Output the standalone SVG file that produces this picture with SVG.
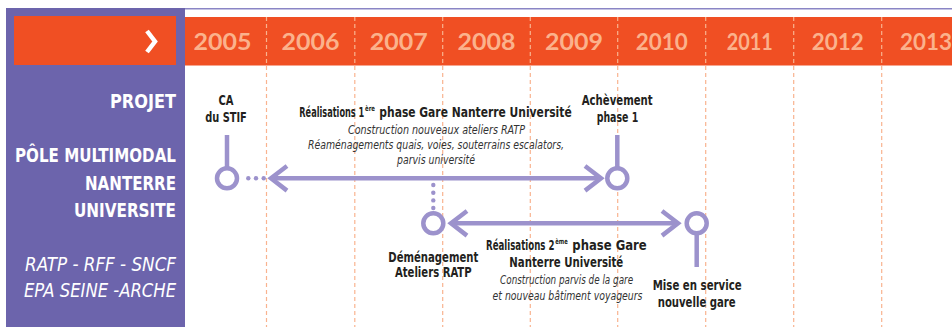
<svg xmlns="http://www.w3.org/2000/svg" width="952" height="327" viewBox="0 0 952 327">
<style>
.yr{font-family:Lato,"Open Sans",sans-serif;font-weight:700;font-size:22px;fill:#fbb28c;text-anchor:middle}
.side{font-family:"DejaVu Sans Condensed","DejaVu Sans",sans-serif;font-weight:700;font-size:20px;fill:#fff;text-anchor:end}
.sidei{font-family:"DejaVu Sans Condensed","DejaVu Sans",sans-serif;font-style:italic;font-size:20px;fill:#fff;text-anchor:end}
.lb{font-family:"DejaVu Sans Condensed","DejaVu Sans",sans-serif;font-weight:700;font-size:14.5px;fill:#231f20;text-anchor:middle}
.st{text-anchor:start}
.it{font-family:"DejaVu Sans Condensed","DejaVu Sans",sans-serif;font-style:italic;font-size:12px;fill:#333;text-anchor:middle}
.sup{font-family:"DejaVu Sans Condensed","DejaVu Sans",sans-serif;font-weight:700;font-size:7.5px;fill:#231f20}
.dash{stroke:#f9b38f;stroke-width:1.2;stroke-dasharray:4 3}
.tl{stroke:#9c92cc;stroke-width:4.5;fill:none;stroke-linecap:butt}
.ring{stroke:#9c92cc;stroke-width:4.5;fill:#fff}
.dot{fill:#9c92cc}
</style>
<rect width="952" height="327" fill="#fff"/>
<g id="header">
<rect x="6" y="8" width="179" height="319" fill="#6c64ac"/>
<line x1="185" y1="8.8" x2="952" y2="8.8" stroke="#8a85c5" stroke-width="1.6"/>
<rect x="14" y="16" width="162" height="49" fill="#f04f23"/>
<rect x="185" y="17" width="767" height="48.5" fill="#f04f23"/>
<polyline points="147,31 155,41.5 147,52" fill="none" stroke="#fff" stroke-width="4.5"/>
</g>
<g id="grid">
<line class="dash" x1="266.5" y1="17" x2="266.5" y2="327"/>
<line class="dash" x1="354.8" y1="17" x2="354.8" y2="327"/>
<line class="dash" x1="442.7" y1="17" x2="442.7" y2="327"/>
<line class="dash" x1="530.3" y1="17" x2="530.3" y2="327"/>
<line class="dash" x1="617.7" y1="17" x2="617.7" y2="327"/>
<line class="dash" x1="705.7" y1="17" x2="705.7" y2="327"/>
<line class="dash" x1="793.7" y1="17" x2="793.7" y2="327"/>
<line class="dash" x1="881.7" y1="17" x2="881.7" y2="327"/>
</g>
<g id="years">
<text class="yr" x="222.5" y="50" textLength="58" lengthAdjust="spacingAndGlyphs">2005</text>
<text class="yr" x="310.5" y="50" textLength="58" lengthAdjust="spacingAndGlyphs">2006</text>
<text class="yr" x="398.7" y="50" textLength="58" lengthAdjust="spacingAndGlyphs">2007</text>
<text class="yr" x="486.5" y="50" textLength="58" lengthAdjust="spacingAndGlyphs">2008</text>
<text class="yr" x="574" y="50" textLength="58" lengthAdjust="spacingAndGlyphs">2009</text>
<text class="yr" x="661.7" y="50" textLength="52" lengthAdjust="spacingAndGlyphs">2010</text>
<text class="yr" x="749.7" y="50" textLength="46" lengthAdjust="spacingAndGlyphs">2011</text>
<text class="yr" x="837.7" y="50" textLength="52" lengthAdjust="spacingAndGlyphs">2012</text>
<text class="yr" x="926" y="50" textLength="52" lengthAdjust="spacingAndGlyphs">2013</text>
</g>
<g id="side-labels">
<text class="side" x="176" y="108" textLength="66" lengthAdjust="spacingAndGlyphs">PROJET</text>
<text class="side" x="176" y="162" textLength="161" lengthAdjust="spacingAndGlyphs">PÔLE MULTIMODAL</text>
<text class="side" x="176" y="190" textLength="91" lengthAdjust="spacingAndGlyphs">NANTERRE</text>
<text class="side" x="176" y="216.5" textLength="102" lengthAdjust="spacingAndGlyphs">UNIVERSITE</text>
<text class="sidei" x="176" y="270.5" textLength="151" lengthAdjust="spacingAndGlyphs">RATP - RFF - SNCF</text>
<text class="sidei" x="176" y="296.5" textLength="152" lengthAdjust="spacingAndGlyphs">EPA SEINE -ARCHE</text>
</g>
<g id="connectors">
<line class="tl" x1="227" y1="135" x2="227" y2="168"/>
<circle class="dot" cx="248.3" cy="178.3" r="2.2"/>
<circle class="dot" cx="256" cy="178.3" r="2.2"/>
<circle class="dot" cx="263.7" cy="178.3" r="2.2"/>
<line class="tl" x1="271" y1="178.3" x2="601" y2="178.3"/>
<polyline class="tl" points="287,166 271,178.3 287,190.6"/>
<polyline class="tl" points="585,166 601,178.3 585,190.6"/>
<line class="tl" x1="617.3" y1="135" x2="617.3" y2="168"/>
<circle class="dot" cx="433.3" cy="185" r="2.2"/>
<circle class="dot" cx="433.3" cy="192.7" r="2.2"/>
<circle class="dot" cx="433.3" cy="200.4" r="2.2"/>
<circle class="dot" cx="433.3" cy="208" r="2.2"/>
<line class="tl" x1="451" y1="223.3" x2="678" y2="223.3"/>
<polyline class="tl" points="467,211 451,223.3 467,235.6"/>
<polyline class="tl" points="662,211 678,223.3 662,235.6"/>
<line class="tl" x1="696.7" y1="233" x2="696.7" y2="267"/>
</g>
<g id="ca-stif">
<circle class="ring" cx="227" cy="178.3" r="10"/>
<text class="lb" x="226" y="105" textLength="15" lengthAdjust="spacingAndGlyphs">CA</text>
<text class="lb" x="226" y="121.5" textLength="41.7" lengthAdjust="spacingAndGlyphs">du STIF</text>
</g>
<g id="phase1">
<text class="lb st" x="299.3" y="117" textLength="65" lengthAdjust="spacingAndGlyphs">Réalisations 1</text>
<text class="sup" x="365" y="111" textLength="10" lengthAdjust="spacingAndGlyphs">ère</text>
<text class="lb st" x="379.3" y="117" textLength="192.4" lengthAdjust="spacingAndGlyphs">phase Gare Nanterre Université</text>
<text class="it" x="436.5" y="134" textLength="177" lengthAdjust="spacingAndGlyphs">Construction nouveaux ateliers RATP</text>
<text class="it" x="436" y="149" textLength="256" lengthAdjust="spacingAndGlyphs">Réaménagements quais, voies, souterrains escalators,</text>
<text class="it" x="436" y="164" textLength="78" lengthAdjust="spacingAndGlyphs">parvis université</text>
</g>
<g id="achevement">
<circle class="ring" cx="617.3" cy="178.3" r="10"/>
<text class="lb" x="617.2" y="105" textLength="71" lengthAdjust="spacingAndGlyphs">Achèvement</text>
<text class="lb" x="617.5" y="121.5" textLength="41.7" lengthAdjust="spacingAndGlyphs">phase 1</text>
</g>
<g id="demenagement">
<circle class="ring" cx="433.3" cy="223.3" r="10"/>
<text class="lb" x="433.3" y="261.5" textLength="90" lengthAdjust="spacingAndGlyphs">Déménagement</text>
<text class="lb" x="433.3" y="277" textLength="76.7" lengthAdjust="spacingAndGlyphs">Ateliers RATP</text>
</g>
<g id="phase2">
<text class="lb st" x="486" y="250" textLength="68.5" lengthAdjust="spacingAndGlyphs">Réalisations 2</text>
<text class="sup" x="555.3" y="244" textLength="12.5" lengthAdjust="spacingAndGlyphs">ème</text>
<text class="lb st" x="572.3" y="250" textLength="74.4" lengthAdjust="spacingAndGlyphs">phase Gare</text>
<text class="lb" x="566.3" y="266.5" textLength="114" lengthAdjust="spacingAndGlyphs">Nanterre Université</text>
<text class="it" x="566.6" y="283.5" textLength="133" lengthAdjust="spacingAndGlyphs">Construction parvis de la gare</text>
<text class="it" x="567.5" y="300" textLength="150" lengthAdjust="spacingAndGlyphs">et nouveau bâtiment voyageurs</text>
</g>
<g id="mise-en-service">
<circle class="ring" cx="696.7" cy="223.3" r="10"/>
<text class="lb" x="697.2" y="290" textLength="89" lengthAdjust="spacingAndGlyphs">Mise en service</text>
<text class="lb" x="696.7" y="306.5" textLength="78" lengthAdjust="spacingAndGlyphs">nouvelle gare</text>
</g>
</svg>
